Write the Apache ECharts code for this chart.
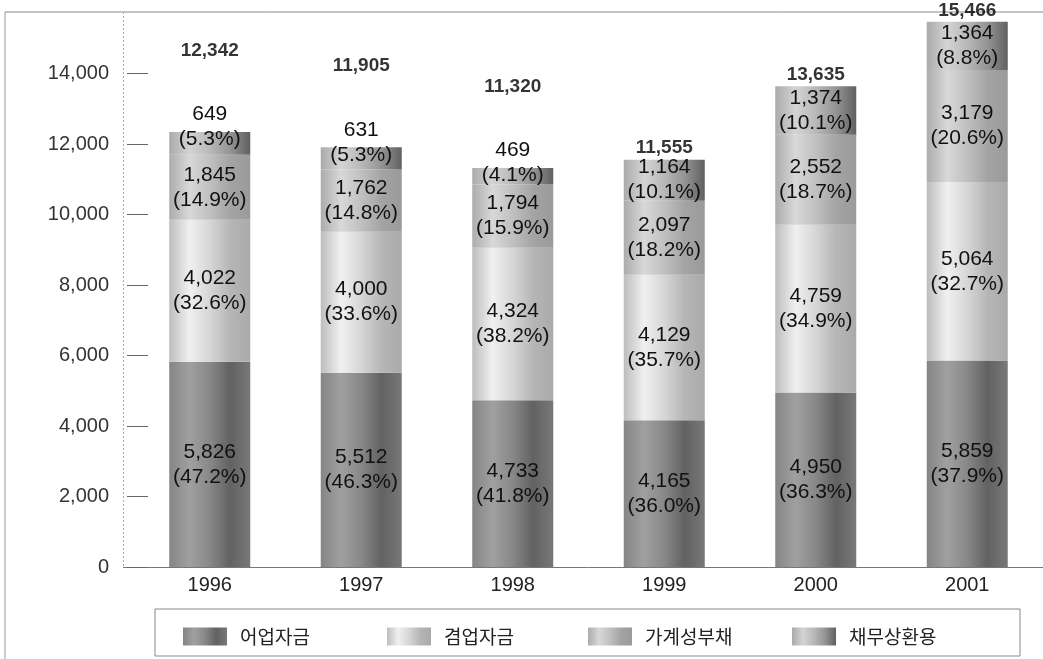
<!DOCTYPE html>
<html>
<head>
<meta charset="utf-8">
<title>어가부채 용도별 구성</title>
<script src="https://cdn.jsdelivr.net/npm/echarts@6/dist/echarts.min.js"></script>
<style>
    html, body { margin: 0; padding: 0; background: #fff; }
    #chart { width: 1043px; height: 659px; }
</style>
</head>
<body>
<div id="chart"></div>
<script>
// 연도
const years = ['1996', '1997', '1998', '1999', '2000', '2001'];
// 어업자금
const fishery = [5826, 5512, 4733, 4165, 4950, 5859];
const fisheryPct = [47.2, 46.3, 41.8, 36.0, 36.3, 37.9];
// 겸업자금
const sideJob = [4022, 4000, 4324, 4129, 4759, 5064];
const sideJobPct = [32.6, 33.6, 38.2, 35.7, 34.9, 32.7];
// 가계성부채
const household = [1845, 1762, 1794, 2097, 2552, 3179];
const householdPct = [14.9, 14.8, 15.9, 18.2, 18.7, 20.6];
// 채무상환용
const repay = [649, 631, 469, 1164, 1374, 1364];
const repayPct = [5.3, 5.3, 4.1, 10.1, 10.1, 8.8];
// 합계
const totals = [12342, 11905, 11320, 11555, 13635, 15466];
// y축 눈금
const yTicks = [0, 2000, 4000, 6000, 8000, 10000, 12000, 14000];

const fmt = v => v.toLocaleString('en-US');
const numFont = 'Liberation Sans';

// 원통 느낌의 가로 그라데이션
function grad(stops) {
    return new echarts.graphic.LinearGradient(0, 0, 1, 0,
        stops.map((c, i) => ({ offset: i / (stops.length - 1), color: c })));
}

function segLabel(pcts) {
    return {
        show: true,
        position: 'inside',
        color: '#111',
        fontFamily: numFont,
        fontSize: 21,
        lineHeight: 25,
        formatter: p => fmt(p.value) + '\n(' + pcts[p.dataIndex].toFixed(1) + '%)'
    };
}

const series = [
    {
        name: '어업자금',
        type: 'bar',
        stack: 'all',
        barWidth: 81,
        data: fishery,
        itemStyle: { color: grad(['#858585', '#a0a0a0', '#888888', '#626262', '#787878']) },
        label: segLabel(fisheryPct)
    },
    {
        name: '겸업자금',
        type: 'bar',
        stack: 'all',
        data: sideJob,
        itemStyle: { color: grad(['#bdbdbd', '#f0f0f0', '#d6d6d6', '#b6b6b6', '#aaaaaa']) },
        label: segLabel(sideJobPct)
    },
    {
        name: '가계성부채',
        type: 'bar',
        stack: 'all',
        data: household,
        itemStyle: { color: grad(['#acacac', '#d8d8d8', '#c0c0c0', '#a4a4a4', '#9a9a9a']) },
        label: segLabel(householdPct)
    },
    {
        name: '채무상환용',
        type: 'bar',
        stack: 'all',
        // 작은 구간은 라벨을 막대 위쪽으로
        data: repay.map(v => v < 1000
            ? { value: v, label: { position: 'top', distance: -20 } }
            : v),
        itemStyle: { color: grad(['#aaaaaa', '#d4d4d4', '#b8b8b8', '#949494', '#606060']) },
        label: segLabel(repayPct)
    },
    {
        // 합계 라벨
        name: 'total',
        type: 'scatter',
        symbolSize: 0,
        data: totals.map((t, i) => ({
            value: t,
            label: { distance: repay[i] < 1000 ? 72 : 2 }
        })),
        label: {
            show: true,
            position: 'top',
            color: '#000',
            fontFamily: numFont,
            fontWeight: 'bold',
            fontSize: 19,
            formatter: p => fmt(p.value)
        },
        z: 5
    }
];

const legendX = [178, 382, 583, 787];
const legends = series.slice(0, 4).map((s, i) => ({
    data: [s.name],
    left: legendX[i],
    top: 622,
    icon: 'rect',
    itemWidth: 44,
    itemHeight: 18,
    selectedMode: false,
    textStyle: {
        fontFamily: 'Noto Sans CJK KR',
        fontSize: 19,
        color: '#222',
        padding: [0, 0, 0, 8]
    }
}));

const option = {
    animation: false,
    legend: legends,
    grid: { left: 134, right: 0, top: 3, bottom: 92, outerBoundsMode: 'none' },
    xAxis: {
        type: 'category',
        data: years,
        axisLine: { lineStyle: { color: '#777' } },
        axisTick: { inside: true, length: 13, lineStyle: { color: '#aaa', type: 'dashed' } },
        axisLabel: {
            fontFamily: numFont,
            fontSize: 20,
            color: '#222',
            margin: 8
        }
    },
    yAxis: {
        type: 'value',
        min: 0,
        max: 16000,
        offset: 7,
        axisLine: { show: false },
        axisTick: {
            show: true,
            inside: true,
            length: 21,
            customValues: yTicks,
            lineStyle: { color: '#666' }
        },
        axisLabel: {
            customValues: yTicks,
            margin: 18,
            fontFamily: numFont,
            fontSize: 20,
            color: '#333',
            formatter: v => fmt(v)
        },
        splitLine: { show: false }
    },
    graphic: [
        // 바깥 테두리
        { type: 'line', z: -1, shape: { x1: 5, y1: 12, x2: 1043, y2: 12 }, style: { stroke: '#888', lineWidth: 1 } },
        { type: 'line', z: -1, shape: { x1: 5, y1: 12, x2: 5, y2: 659 }, style: { stroke: '#999', lineWidth: 1 } },
        // 세로 축선
        { type: 'line', shape: { x1: 123.5, y1: 12, x2: 123.5, y2: 567 }, style: { stroke: '#aaa', lineWidth: 1, lineDash: [2, 2] } },
        // 가로 축선 왼쪽 연장
        { type: 'line', shape: { x1: 123, y1: 567.5, x2: 134, y2: 567.5 }, style: { stroke: '#777', lineWidth: 1 } },
        // 범례 상자
        { type: 'rect', z: -1, shape: { x: 155, y: 609, width: 865, height: 47 }, style: { fill: 'none', stroke: '#888', lineWidth: 1 } }
    ],
    series: series
};

const myChart = echarts.init(document.getElementById('chart'));
myChart.setOption(option);
</script>
</body>
</html>
